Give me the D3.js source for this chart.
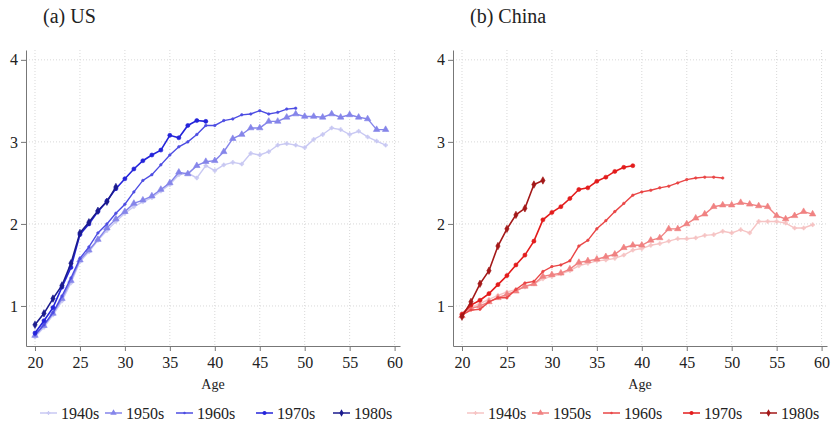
<!DOCTYPE html>
<html>
<head>
<meta charset="utf-8">
<script src="https://cdn.jsdelivr.net/npm/d3@7"></script>
<style>
  body { margin: 0; background: #fff; }
</style>
</head>
<body>
<svg id="chart" width="831" height="433"></svg>
<script>
const COHORTS = ["1940s", "1950s", "1960s", "1970s", "1980s"];
const START_AGE = 20;
const X_TICKS = [20, 25, 30, 35, 40, 45, 50, 55, 60];
const Y_TICKS = [1, 2, 3, 4];

// US, values by age starting at 20
const us1940 = [0.62, 0.74, 0.89, 1.06, 1.28, 1.54, 1.66, 1.80, 1.92, 2.03,
    2.13, 2.21, 2.27, 2.32, 2.40, 2.48, 2.60, 2.62, 2.56, 2.71,
    2.65, 2.72, 2.75, 2.73, 2.86, 2.84, 2.88, 2.96, 2.98, 2.96,
    2.93, 3.03, 3.09, 3.17, 3.15, 3.09, 3.13, 3.06, 3.01, 2.96];
const us1950 = [0.64, 0.76, 0.91, 1.09, 1.31, 1.56, 1.68, 1.81, 1.95, 2.06,
    2.15, 2.25, 2.29, 2.34, 2.42, 2.50, 2.63, 2.61, 2.71, 2.76,
    2.77, 2.88, 3.04, 3.09, 3.17, 3.17, 3.25, 3.25, 3.30, 3.34,
    3.31, 3.31, 3.30, 3.34, 3.30, 3.33, 3.30, 3.28, 3.15, 3.15];
const us1960 = [0.65, 0.77, 0.92, 1.12, 1.34, 1.58, 1.72, 1.89, 2.00, 2.13,
    2.24, 2.39, 2.53, 2.60, 2.72, 2.84, 2.94, 3.00, 3.09, 3.20,
    3.20, 3.26, 3.28, 3.33, 3.34, 3.38, 3.34, 3.36, 3.40, 3.41];
const us1970 = [0.67, 0.82, 0.98, 1.23, 1.47, 1.87, 2.00, 2.15, 2.28, 2.43,
    2.55, 2.67, 2.77, 2.84, 2.90, 3.08, 3.05, 3.20, 3.26, 3.25];
const us1980 = [0.77, 0.91, 1.09, 1.25, 1.52, 1.89, 2.02, 2.16, 2.27, 2.45];

// China, values by age starting at 20
const cn1940 = [0.90, 0.98, 1.03, 1.08, 1.13, 1.17, 1.20, 1.23, 1.27, 1.33,
    1.36, 1.39, 1.43, 1.49, 1.52, 1.55, 1.56, 1.58, 1.62, 1.68,
    1.70, 1.74, 1.76, 1.79, 1.82, 1.82, 1.83, 1.86, 1.87, 1.91,
    1.89, 1.93, 1.89, 2.03, 2.03, 2.03, 2.01, 1.95, 1.95, 1.99];
const cn1950 = [0.88, 0.97, 1.00, 1.05, 1.10, 1.14, 1.18, 1.24, 1.27, 1.36,
    1.38, 1.40, 1.45, 1.53, 1.55, 1.57, 1.60, 1.63, 1.71, 1.74,
    1.74, 1.80, 1.83, 1.94, 1.94, 2.00, 2.07, 2.12, 2.21, 2.23,
    2.23, 2.26, 2.24, 2.22, 2.21, 2.10, 2.06, 2.10, 2.15, 2.12];
const cn1960 = [0.89, 0.95, 0.96, 1.05, 1.10, 1.10, 1.20, 1.28, 1.30, 1.42,
    1.48, 1.50, 1.55, 1.73, 1.80, 1.94, 2.04, 2.15, 2.25, 2.35,
    2.39, 2.41, 2.44, 2.46, 2.50, 2.54, 2.56, 2.57, 2.57, 2.56];
const cn1970 = [0.90, 1.01, 1.07, 1.15, 1.26, 1.37, 1.50, 1.62, 1.79, 2.05,
    2.14, 2.21, 2.31, 2.42, 2.44, 2.52, 2.57, 2.64, 2.69, 2.71];
const cn1980 = [0.87, 1.05, 1.27, 1.43, 1.73, 1.94, 2.11, 2.19, 2.48, 2.53];

const US_COLORS = ["#c9c9f3", "#8585ea", "#4d4de2", "#2424da", "#1b1b8e"];
const CN_COLORS = ["#f6c4c4", "#f08282", "#e94646", "#e31c1c", "#a31818"];
const MARKERS = [
    { type: d3.symbolCross, size: 8 },
    { type: d3.symbolTriangle, size: 18 },
    { type: d3.symbolCircle, size: 5 },
    { type: d3.symbolCircle, size: 13 },
    { type: d3.symbolDiamond, size: 16 }
];
const FONT = "'Liberation Serif', 'Times New Roman', serif";

const svg = d3.select("#chart");
const TOP = 50, BOTTOM = 346;
const LEGEND_OFFSETS = [14, 79, 150, 230, 307];

function drawPanel(title, left, right, series, colors) {
    const x = d3.scaleLinear().domain([19, 60.6]).range([left, right]);
    const y = d3.scaleLinear().domain([0.512, 4.12]).range([BOTTOM, TOP]);
    const g = svg.append("g");

    svg.append("text")
        .attr("x", left + 17).attr("y", 23)
        .style("font-family", FONT)
        .attr("font-size", 20).attr("fill", "#222")
        .text(title);

    // dotted grid
    g.selectAll(".vgrid").data(X_TICKS).join("line")
        .attr("x1", d => x(d)).attr("x2", d => x(d))
        .attr("y1", TOP).attr("y2", BOTTOM)
        .attr("stroke", "#d8d8d8").attr("stroke-dasharray", "1,2");
    g.selectAll(".hgrid").data(Y_TICKS).join("line")
        .attr("x1", left).attr("x2", right)
        .attr("y1", d => y(d)).attr("y2", d => y(d))
        .attr("stroke", "#d8d8d8").attr("stroke-dasharray", "1,2");

    const xAxis = g.append("g")
        .attr("transform", `translate(0,${BOTTOM})`)
        .call(d3.axisBottom(x).tickValues(X_TICKS).tickFormat(d3.format("d"))
            .tickSize(5).tickSizeOuter(0));
    const yAxis = g.append("g")
        .attr("transform", `translate(${left},0)`)
        .call(d3.axisLeft(y).tickValues(Y_TICKS).tickFormat(d3.format("d"))
            .tickSize(5).tickSizeOuter(0));
    [xAxis, yAxis].forEach(a => {
        a.attr("font-family", null);
        a.select(".domain").attr("stroke", "#777");
        a.selectAll(".tick line").attr("stroke", "#777");
        a.selectAll(".tick text")
            .style("font-family", FONT)
            .attr("font-size", 16).attr("fill", "#222");
    });
    xAxis.selectAll(".tick text").attr("dy", "0.85em");

    svg.append("text")
        .attr("x", (left + right) / 2).attr("y", 389)
        .style("font-family", FONT)
        .attr("text-anchor", "middle").attr("font-size", 14).attr("fill", "#222")
        .text("Age");

    const line = d3.line()
        .x((d, i) => x(START_AGE + i))
        .y(d => y(d));

    series.forEach((vals, k) => {
        g.append("path")
            .datum(vals)
            .attr("fill", "none")
            .attr("stroke", colors[k])
            .attr("stroke-width", k >= 3 ? 1.6 : 1.4)
            .attr("d", line);
        const sym = d3.symbol().type(MARKERS[k].type).size(MARKERS[k].size);
        g.selectAll(null).data(vals).join("path")
            .attr("transform", (d, i) => `translate(${x(START_AGE + i)},${y(d)})`)
            .attr("d", sym)
            .attr("fill", colors[k])
            .attr("stroke", colors[k])
            .attr("stroke-width", 0.6);
    });

    // legend
    const leg = svg.append("g");
    COHORTS.forEach((name, k) => {
        const lx = left + LEGEND_OFFSETS[k];
        const ly = 413;
        leg.append("line")
            .attr("x1", lx).attr("x2", lx + 17)
            .attr("y1", ly).attr("y2", ly)
            .attr("stroke", colors[k]).attr("stroke-width", 1.5);
        leg.append("path")
            .attr("transform", `translate(${lx + 8.5},${ly})`)
            .attr("d", d3.symbol().type(MARKERS[k].type).size(MARKERS[k].size)())
            .attr("fill", colors[k]);
        leg.append("text")
            .attr("x", lx + 21).attr("y", ly + 5.5)
            .style("font-family", FONT)
            .attr("font-size", 16).attr("fill", "#222")
            .text(name);
    });
}

drawPanel("(a) US", 26, 400, [us1940, us1950, us1960, us1970, us1980], US_COLORS);
drawPanel("(b) China", 453, 827, [cn1940, cn1950, cn1960, cn1970, cn1980], CN_COLORS);
</script>
</body>
</html>
